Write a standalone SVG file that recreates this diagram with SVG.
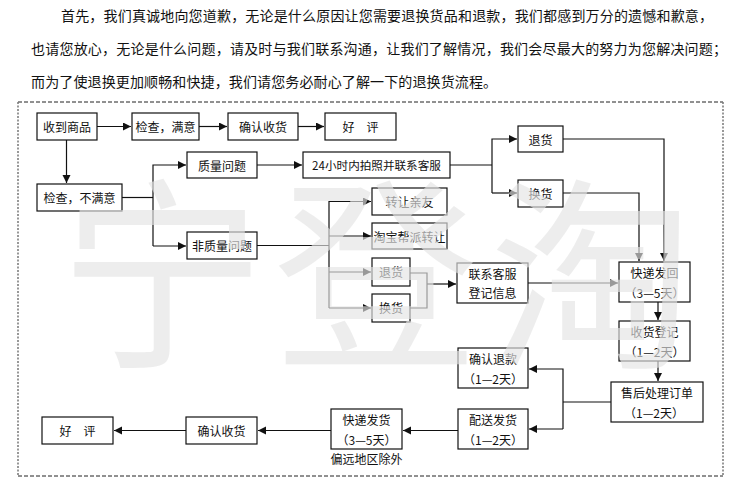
<svg xmlns="http://www.w3.org/2000/svg" width="735" height="482" viewBox="0 0 735 482">
<defs>
<style>
text{font-family:"Noto Sans CJK SC","Noto Sans",sans-serif;fill:#111;}
.p{font-size:14px;dominant-baseline:central;}
.t{font-size:12px;text-anchor:middle;dominant-baseline:central;}
.box{fill:#fff;stroke:#111;stroke-width:1.2;}
.c{fill:none;stroke:#111;stroke-width:1.2;}
.wm{font-size:205px;text-anchor:middle;fill:#e4e4e4;fill-opacity:0.65;}
</style>
<marker id="ah" markerUnits="userSpaceOnUse" markerWidth="9" markerHeight="9" refX="8" refY="4" orient="auto">
<path d="M0,0 L8,4 L0,8 z" fill="#111"/>
</marker>
</defs>
<rect width="735" height="482" fill="#fff"/>
<g id="intro">
<text class="p" x="61" y="15" textLength="652" lengthAdjust="spacing">首先，我们真诚地向您道歉，无论是什么原因让您需要退换货品和退款，我们都感到万分的遗憾和歉意，</text>
<text class="p" x="31" y="48" textLength="696" lengthAdjust="spacing">也请您放心，无论是什么问题，请及时与我们联系沟通，让我们了解情况，我们会尽最大的努力为您解决问题；</text>
<text class="p" x="31" y="81" textLength="466" lengthAdjust="spacing">而为了使退换更加顺畅和快捷，我们请您务必耐心了解一下的退换货流程。</text>
</g>
<g id="frame">
<line x1="18" y1="102" x2="723" y2="102" stroke="#222" stroke-width="1" stroke-dasharray="4 2"/>
<line x1="18" y1="476" x2="723" y2="476" stroke="#222" stroke-width="1" stroke-dasharray="4 2"/>
<line x1="18" y1="102" x2="18" y2="476" stroke="#777" stroke-width="1.5" stroke-dasharray="2 1.5"/>
<line x1="723" y1="102" x2="723" y2="476" stroke="#777" stroke-width="1.5" stroke-dasharray="2 1.5"/>
</g>
<g id="connectors">
<path class="c" d="M97,126.5 H131" marker-end="url(#ah)"/>
<path class="c" d="M199,126.5 H227" marker-end="url(#ah)"/>
<path class="c" d="M298,126.5 H324" marker-end="url(#ah)"/>
<path class="c" d="M66.5,140 V183" marker-end="url(#ah)"/>
<path class="c" d="M122,197.5 H153"/>
<path class="c" d="M153,246 V165 H186" marker-end="url(#ah)"/>
<path class="c" d="M153,246 H186" marker-end="url(#ah)"/>
<path class="c" d="M257,165 H302" marker-end="url(#ah)"/>
<path class="c" d="M450,165 H492"/>
<path class="c" d="M492,193 V139 H517" marker-end="url(#ah)"/>
<path class="c" d="M492,193 H517" marker-end="url(#ah)"/>
<path class="c" d="M563,139 H664 V261" marker-end="url(#ah)"/>
<path class="c" d="M563,193 H639 V261" marker-end="url(#ah)"/>
<path class="c" d="M257,245.5 H329"/>
<path class="c" d="M329,308 V201.5 H371" marker-end="url(#ah)"/>
<path class="c" d="M329,236 H371" marker-end="url(#ah)"/>
<path class="c" d="M329,272 H371" marker-end="url(#ah)"/>
<path class="c" d="M329,308 H371" marker-end="url(#ah)"/>
<path class="c" d="M410,273 H427 V308 H410"/>
<path class="c" d="M427,284 H456" marker-end="url(#ah)"/>
<path class="c" d="M528,283 H618" marker-end="url(#ah)"/>
<path class="c" d="M658,302 V320" marker-end="url(#ah)"/>
<path class="c" d="M658,361 V381" marker-end="url(#ah)"/>
<path class="c" d="M611,402 H563"/>
<path class="c" d="M563,429 V369 H529" marker-end="url(#ah)"/>
<path class="c" d="M563,429 H529" marker-end="url(#ah)"/>
<path class="c" d="M458,430.5 H403" marker-end="url(#ah)"/>
<path class="c" d="M331,430.5 H258" marker-end="url(#ah)"/>
<path class="c" d="M186,430.5 H114" marker-end="url(#ah)"/>
</g>
<g id="n-receive"><rect class="box" x="37" y="113" width="60" height="27"/><text class="t" x="67" y="126.5">收到商品</text></g>
<g id="n-ok"><rect class="box" x="132" y="113" width="67" height="27"/><text class="t" x="165.5" y="126.5">检查，满意</text></g>
<g id="n-confirm1"><rect class="box" x="228" y="113" width="70" height="27"/><text class="t" x="263" y="126.5">确认收货</text></g>
<g id="n-praise1"><rect class="box" x="325" y="113" width="71" height="27"/><text class="t" x="360.5" y="126.5">好　评</text></g>
<g id="n-notok"><rect class="box" x="37" y="184" width="85" height="27"/><text class="t" x="79.5" y="197.5">检查，不满意</text></g>
<g id="n-quality"><rect class="box" x="187" y="152" width="70" height="26"/><text class="t" x="222" y="165">质量问题</text></g>
<g id="n-24h"><rect class="box" x="303" y="152" width="147" height="26"/><text class="t" x="376.5" y="165" style="font-size:11.6px">24小时内拍照并联系客服</text></g>
<g id="n-return1"><rect class="box" x="518" y="126" width="45" height="26"/><text class="t" x="540.5" y="139">退货</text></g>
<g id="n-exchange1"><rect class="box" x="518" y="180" width="45" height="27"/><text class="t" x="540.5" y="193.5">换货</text></g>
<g id="n-nonquality"><rect class="box" x="187" y="232" width="70" height="27"/><text class="t" x="222" y="245.5">非质量问题</text></g>
<g id="n-friend"><rect class="box" x="372" y="188" width="75" height="27"/><text class="t" x="409.5" y="201.5">转让亲友</text></g>
<g id="n-taobao"><rect class="box" x="372" y="223" width="75" height="26"/><text class="t" x="409.5" y="236">淘宝帮派转让</text></g>
<g id="n-return2"><rect class="box" x="372" y="258" width="38" height="28"/><text class="t" x="391" y="271">退货</text></g>
<g id="n-exchange2"><rect class="box" x="372" y="294" width="38" height="28"/><text class="t" x="391" y="307">换货</text></g>
<g id="n-contact"><rect class="box" x="457" y="263" width="71" height="40"/><text class="t" x="492.5" y="273.5">联系客服</text><text class="t" x="492.5" y="292.5">登记信息</text></g>
<g id="n-sendback"><rect class="box" x="619" y="262" width="71" height="40"/><text class="t" x="654.5" y="272.5">快递发回</text><text class="t" x="654.5" y="292">（3—5天）</text></g>
<g id="n-register"><rect class="box" x="619" y="321" width="71" height="40"/><text class="t" x="654.5" y="331.5">收货登记</text><text class="t" x="654.5" y="351">（1—2天）</text></g>
<g id="n-aftersale"><rect class="box" x="611" y="382" width="92" height="40"/><text class="t" x="657" y="392.5">售后处理订单</text><text class="t" x="654" y="412">（1—2天）</text></g>
<g id="n-refund"><rect class="box" x="458" y="348" width="70" height="40"/><text class="t" x="493" y="358.5">确认退款</text><text class="t" x="493" y="378">（1—2天）</text></g>
<g id="n-deliver"><rect class="box" x="458" y="409" width="70" height="40"/><text class="t" x="493" y="419.5">配送发货</text><text class="t" x="493" y="439">（1—2天）</text></g>
<g id="n-express"><rect class="box" x="331" y="409" width="71" height="40"/><text class="t" x="366.5" y="419.5">快递发货</text><text class="t" x="366.5" y="439">（3—5天）</text><text class="t" x="366.5" y="458.5">偏远地区除外</text></g>
<g id="n-confirm2"><rect class="box" x="186" y="417" width="71" height="27"/><text class="t" x="221.5" y="430.5">确认收货</text></g>
<g id="n-praise2"><rect class="box" x="42" y="417" width="71" height="27"/><text class="t" x="77.5" y="430.5">好　评</text></g>
<g id="watermark">
<text class="wm" x="162" y="352">宁</text>
<text class="wm" x="376" y="352">登</text>
<text class="wm" x="592" y="352">淘</text>
</g>
</svg>
